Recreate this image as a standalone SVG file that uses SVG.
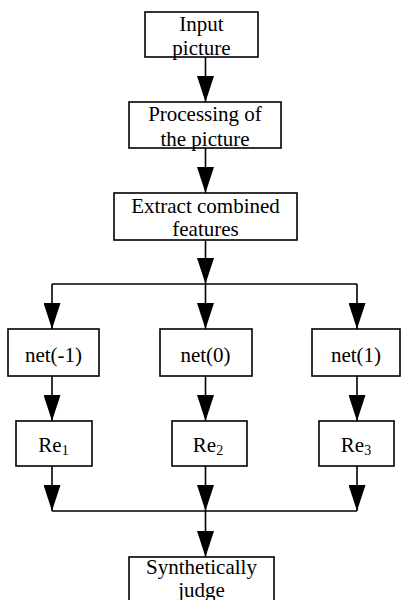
<svg xmlns="http://www.w3.org/2000/svg" width="401" height="600" viewBox="0 0 401 600">
<style>
.box{fill:#fff;stroke:#000;stroke-width:1.6}
.t{font-size:21px;fill:#000;text-anchor:middle}
.c{fill:none;stroke:#000;stroke-width:1.6}
.a{fill:none;stroke:#000;stroke-width:1.6;marker-end:url(#ah)}
</style>
<defs>
<marker id="ah" markerUnits="userSpaceOnUse" markerWidth="26" markerHeight="17" viewBox="0 0 26 17" refX="26" refY="8.5" orient="auto">
<path d="M0,0 L26,8.5 L0,17 z" fill="#000"/>
</marker>
</defs>
<rect width="401" height="600" fill="#fff"/>
<g id="connectors">
<line class="a" x1="205.5" y1="57" x2="205.5" y2="102"/>
<line class="a" x1="205.5" y1="148" x2="205.5" y2="193"/>
<line class="a" x1="205.5" y1="240" x2="205.5" y2="284"/>
<line class="c" x1="52" y1="284" x2="357" y2="284"/>
<line class="a" x1="52" y1="284" x2="52" y2="329"/>
<line class="a" x1="205.5" y1="284" x2="205.5" y2="329"/>
<line class="a" x1="357" y1="284" x2="357" y2="329"/>
<line class="a" x1="52" y1="376" x2="52" y2="421"/>
<line class="a" x1="205.5" y1="376" x2="205.5" y2="421"/>
<line class="a" x1="357" y1="376" x2="357" y2="421"/>
<line class="a" x1="52" y1="466" x2="52" y2="511"/>
<line class="a" x1="205.5" y1="466" x2="205.5" y2="511"/>
<line class="a" x1="357" y1="466" x2="357" y2="511"/>
<line class="c" x1="52" y1="511" x2="357" y2="511"/>
<line class="a" x1="205.5" y1="511" x2="205.5" y2="557"/>
</g>
<g font-family="Liberation Serif, Times New Roman, serif">
<g id="input">
<rect class="box" x="145" y="12" width="113" height="45"/>
<text class="t" x="201.5" y="31">Input</text>
<text class="t" x="201.5" y="55">picture</text>
</g>
<g id="processing">
<rect class="box" x="129" y="102" width="152" height="46"/>
<text class="t" x="205" y="121">Processing of</text>
<text class="t" x="205" y="146">the picture</text>
</g>
<g id="extract">
<rect class="box" x="114" y="193" width="183" height="47"/>
<text class="t" x="205.5" y="213">Extract combined</text>
<text class="t" x="205.5" y="236">features</text>
</g>
<g id="net-1">
<rect class="box" x="8" y="329" width="91" height="47"/>
<text class="t" x="53.5" y="362">net(-1)</text>
</g>
<g id="net0">
<rect class="box" x="160" y="329" width="92" height="47"/>
<text class="t" x="205.5" y="362">net(0)</text>
</g>
<g id="net1">
<rect class="box" x="312" y="329" width="88" height="47"/>
<text class="t" x="356" y="362">net(1)</text>
</g>
<g id="re1">
<rect class="box" x="16" y="421" width="76" height="45"/>
<text class="t" x="53.5" y="452">Re<tspan font-size="14" dy="3">1</tspan></text>
</g>
<g id="re2">
<rect class="box" x="172" y="421" width="75" height="45"/>
<text class="t" x="208" y="452">Re<tspan font-size="14" dy="3">2</tspan></text>
</g>
<g id="re3">
<rect class="box" x="319" y="421" width="75" height="45"/>
<text class="t" x="356" y="452">Re<tspan font-size="14" dy="3">3</tspan></text>
</g>
<g id="judge">
<rect class="box" x="129" y="557" width="145" height="50"/>
<text class="t" x="201.5" y="574">Synthetically</text>
<text class="t" x="201.5" y="597">judge</text>
</g>
</g>
</svg>
